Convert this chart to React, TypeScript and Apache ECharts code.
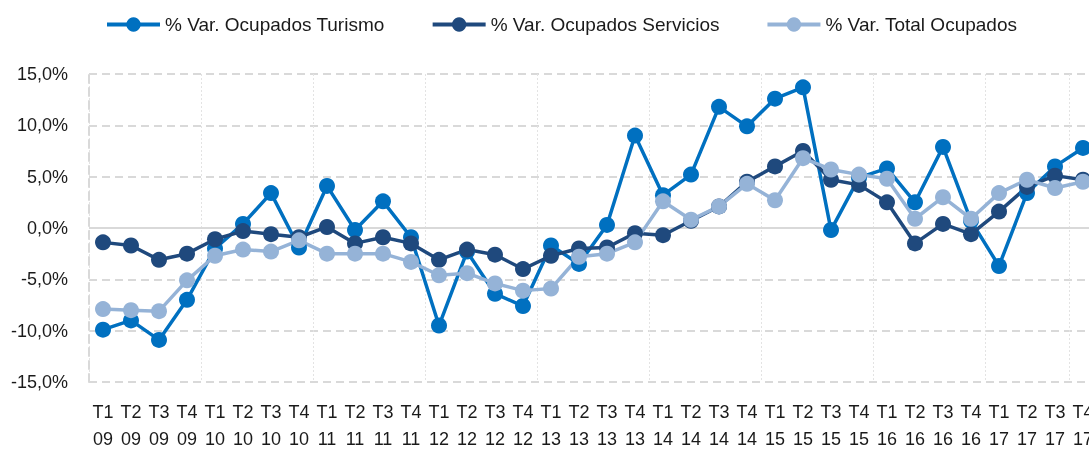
import React, { useEffect, useRef } from "react";
import * as echarts from "echarts";

const years = ["09", "10", "11", "12", "13", "14", "15", "16", "17"];
const quarters = ["T1", "T2", "T3", "T4"];
const categories = years.flatMap((y) => quarters.map((q) => `${q}\n${y}`));

const seriesNames = [
  "% Var. Ocupados Turismo",
  "% Var. Ocupados Servicios",
  "% Var. Total Ocupados",
];

const turismo = [
  -9.9, -9.0, -10.9, -7.0, -2.0, 0.4, 3.4, -1.9, 4.1, -0.2, 2.6, -0.9,
  -9.5, -2.3, -6.4, -7.6, -1.7, -3.5, 0.3, 9.0, 3.2, 5.2, 11.8, 9.9,
  12.6, 13.7, -0.2, 4.9, 5.8, 2.5, 7.9, 0.7, -3.7, 3.4, 6.0, 7.8,
];
const servicios = [
  -1.4, -1.7, -3.1, -2.5, -1.1, -0.3, -0.6, -0.9, 0.1, -1.5, -0.9, -1.5,
  -3.1, -2.1, -2.6, -4.0, -2.7, -2.0, -1.9, -0.5, -0.7, 0.7, 2.1, 4.5,
  6.0, 7.5, 4.7, 4.2, 2.5, -1.5, 0.4, -0.6, 1.6, 4.0, 5.1, 4.7,
];
const total = [
  -7.9, -8.0, -8.1, -5.1, -2.7, -2.1, -2.3, -1.2, -2.5, -2.5, -2.5, -3.3,
  -4.6, -4.4, -5.4, -6.1, -5.9, -2.8, -2.5, -1.4, 2.6, 0.8, 2.1, 4.3,
  2.7, 6.8, 5.7, 5.2, 4.8, 0.9, 3.0, 0.9, 3.4, 4.7, 3.9, 4.5,
];

const colors = ["#0070C0", "#1F497D", "#95B3D7"];
const FONT = "'Liberation Sans', Arial, sans-serif";

export default function App() {
  const ref = useRef<HTMLDivElement>(null);
  useEffect(() => {
    if (!ref.current) return;
    const chart = echarts.init(ref.current, null, { renderer: "svg" });
    const mk = (name: string, data: number[], color: string, extra: any = {}) => ({
      name,
      type: "line",
      data,
      color,
      symbol: "circle",
      symbolSize: 16,
      showAllSymbol: true,
      lineStyle: { width: 3.5, color },
      itemStyle: { color },
      emphasis: { disabled: true },
      ...extra,
    });
    chart.setOption({
      animation: false,
      textStyle: { fontFamily: FONT },
      legend: {
        top: 15,
        left: 105,
        padding: 0,
        itemWidth: 53,
        itemHeight: 18,
        itemGap: 46,
        lineStyle: { width: 4 },
        textStyle: { fontFamily: FONT, fontSize: 19, color: "#1a1a1a" },
        data: seriesNames,
      },
      grid: {
        left: 89,
        right: -8,
        top: 74,
        bottom: 68,
        outerBoundsMode: "none",
        containLabel: false,
      },
      xAxis: {
        type: "category",
        data: categories,
        boundaryGap: true,
        axisLine: { show: false, onZero: false },
        axisTick: { show: false },
        axisLabel: {
          interval: 0,
          fontFamily: FONT,
          fontSize: 18,
          lineHeight: 27,
          color: "#1a1a1a",
          margin: 16,
        },
        splitLine: {
          show: true,
          interval: 3,
          lineStyle: { color: "#e3e3e3", width: 1, type: [2, 2] },
        },
      },
      yAxis: {
        type: "value",
        min: -15,
        max: 15,
        interval: 5,
        axisLine: {
          show: true,
          lineStyle: { color: "#d9d9d9", width: 2, type: [8, 5] },
        },
        axisTick: { show: false },
        axisLabel: {
          fontFamily: FONT,
          fontSize: 18,
          color: "#1a1a1a",
          margin: 21,
          formatter: (v: number) => v.toFixed(1).replace(".", ",") + "%",
        },
        splitLine: {
          show: true,
          lineStyle: { color: "#d9d9d9", width: 2, type: [8, 5] },
        },
      },
      series: [
        mk(seriesNames[0], turismo, colors[0], {
          markLine: {
            silent: true,
            symbol: "none",
            label: { show: false },
            lineStyle: { color: "#d9d9d9", width: 2, type: "solid" },
            data: [{ yAxis: 0 }],
            z: 0,
          },
        }),
        mk(seriesNames[1], servicios, colors[1]),
        mk(seriesNames[2], total, colors[2]),
      ],
    });
    return () => chart.dispose();
  }, []);
  return (
    <div
      ref={ref}
      style={{ position: "fixed", left: 0, top: 0, width: 1089, height: 450 }}
    />
  );
}
